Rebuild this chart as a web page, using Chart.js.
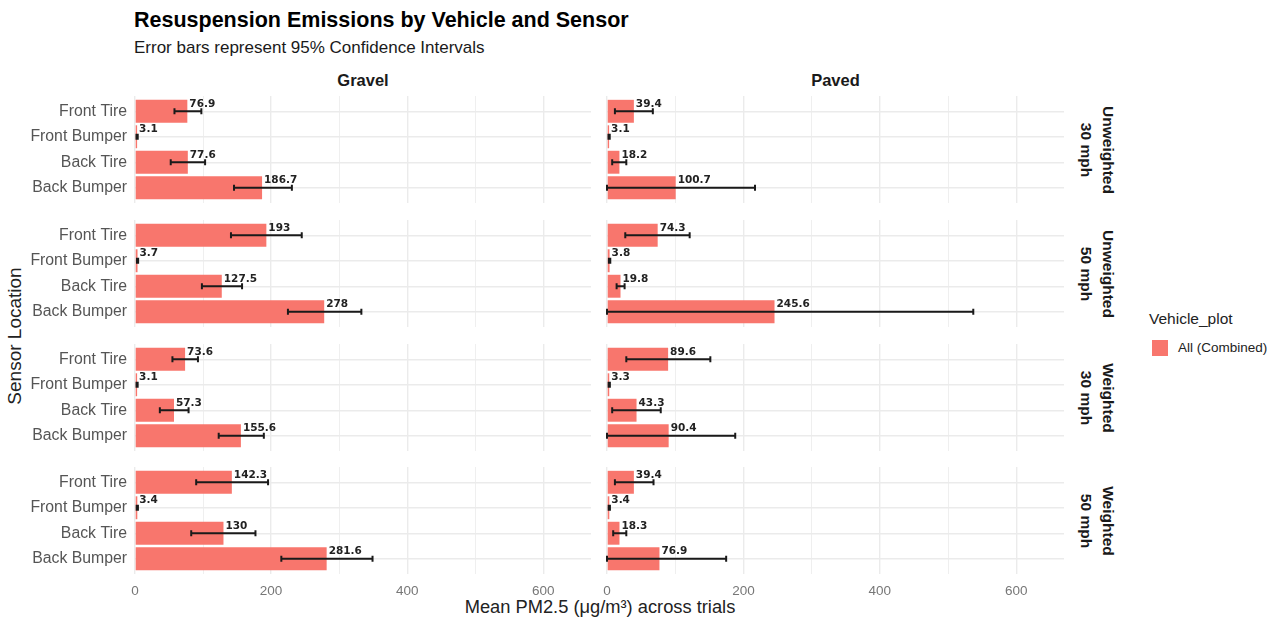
<!DOCTYPE html>
<html>
<head>
<meta charset="utf-8">
<script src="https://cdn.jsdelivr.net/npm/chart.js@4.4.1/dist/chart.umd.min.js"></script>
<style>
  body { margin: 0; background: #fff; font-family: "Liberation Sans", Arial, sans-serif; }
  #wrap { position: relative; width: 1281px; height: 621px; overflow: hidden; }
  canvas { position: absolute; }
  .txt { position: absolute; white-space: nowrap; }
  #title { left: 134px; top: 8px; font-size: 21.5px; font-weight: bold; color: #000; }
  #subtitle { left: 134px; top: 38px; font-size: 17px; color: #1a1a1a; }
  .strip-top { top: 71px; font-size: 16.5px; font-weight: bold; color: #1a1a1a; transform: translateX(-50%); }
  .strip-right { font-size: 15.5px; font-weight: bold; color: #1a1a1a; line-height: 22px; text-align: center;
                 transform: translate(-50%, -50%) rotate(90deg); }
  #ytitle { left: 15px; top: 336px; font-size: 19px; color: #222; transform: translate(-50%, -50%) rotate(-90deg); }
  #xtitle { left: 600px; top: 607px; font-size: 18.3px; color: #222; transform: translate(-50%, -50%); }
  #legend-title { left: 1149px; top: 310px; font-size: 15.5px; color: #222; }
  #legend-key { left: 1152px; top: 340px; width: 16px; height: 16px; position: absolute; }
  #legend-label { left: 1178px; top: 340px; font-size: 13.5px; color: #222; }
</style>
</head>
<body>
<div id="wrap">
  <div id="title" class="txt">Resuspension Emissions by Vehicle and Sensor</div>
  <div id="subtitle" class="txt">Error bars represent 95% Confidence Intervals</div>
  <div id="ytitle" class="txt">Sensor Location</div>
  <div id="xtitle" class="txt">Mean PM2.5 (μg/m³) across trials</div>
  <div id="legend-title" class="txt">Vehicle_plot</div>
  <div id="legend-key"></div>
  <div id="legend-label" class="txt">All (Combined)</div>
</div>
<script>
// ---- Data ----
const sensors    = ['Front Tire', 'Front Bumper', 'Back Tire', 'Back Bumper'];
const surfaces   = ['Gravel', 'Paved'];
const conditions = [['Unweighted', '30 mph'], ['Unweighted', '50 mph'], ['Weighted', '30 mph'], ['Weighted', '50 mph']];

// mean PM2.5 per condition row, sensors in order above
const gravelMean = [[76.9, 3.1, 77.6, 186.7], [193, 3.7, 127.5, 278], [73.6, 3.1, 57.3, 155.6], [142.3, 3.4, 130, 281.6]];
const gravelLow  = [[58, 2.2, 52.5, 145.5], [141, 2.9, 98.3, 224.7], [55, 2.3, 36.5, 123], [89.9, 2.5, 82.6, 215]];
const gravelHigh = [[97.5, 4.0, 103, 230.5], [245, 4.6, 157.3, 332.6], [92.5, 3.9, 78.7, 189.3], [195.5, 4.3, 177, 349]];

const pavedMean  = [[39.4, 3.1, 18.2, 100.7], [74.3, 3.8, 19.8, 245.6], [89.6, 3.3, 43.3, 90.4], [39.4, 3.4, 18.3, 76.9]];
const pavedLow   = [[11.6, 2.2, 7.6, 0], [26.8, 2.8, 14.1, 0], [28.3, 2.4, 7.6, 0], [11.6, 2.5, 9.1, 0]];
const pavedHigh  = [[67.2, 4.0, 28.3, 217], [121.2, 4.8, 25.8, 537], [151.5, 4.2, 78.8, 188], [68.2, 4.3, 28.3, 174.7]];

const xTicks = [0, 200, 400, 600];

// ---- Layout ----
const BAR_COLOR = '#F8766D';
const GRID = '#ebebeb';
const FONT = "'Liberation Sans', Arial, sans-serif";
const COL_LEFT = [0, 597];
const COL_WIDTH = [591, 467];
const Y_AXIS_W = [135, 10];
const ROW_TOP = [96, 220, 344, 467];
const PANEL_H = 107;
const X_AXIS_H = 28;

document.getElementById('legend-key').style.background = BAR_COLOR;

const wrap = document.getElementById('wrap');

// strip labels
surfaces.forEach((s, c) => {
  const d = document.createElement('div');
  d.className = 'txt strip-top';
  d.textContent = s;
  d.style.left = (COL_LEFT[c] + Y_AXIS_W[c] + (COL_WIDTH[c] - Y_AXIS_W[c]) / 2) + 'px';
  wrap.appendChild(d);
});
conditions.forEach((cond, r) => {
  const d = document.createElement('div');
  d.className = 'txt strip-right';
  d.innerHTML = cond[0] + '<br>' + cond[1];
  d.style.left = '1097px';
  d.style.top = (ROW_TOP[r] + PANEL_H / 2) + 'px';
  wrap.appendChild(d);
});

// error bars + value labels drawn over the bars
function makeOverlay(means, low, high) {
  return {
    id: 'overlay',
    afterDatasetsDraw(chart) {
      const { ctx, scales: { x, y } } = chart;
      ctx.save();
      ctx.strokeStyle = '#1a1a1a';
      ctx.lineWidth = 2;
      low.forEach((lo, i) => {
        const yp = y.getPixelForValue(i);
        const x0 = x.getPixelForValue(lo);
        const x1 = x.getPixelForValue(high[i]);
        ctx.beginPath();
        ctx.moveTo(x0, yp); ctx.lineTo(x1, yp);
        ctx.moveTo(x0, yp - 3); ctx.lineTo(x0, yp + 3);
        ctx.moveTo(x1, yp - 3); ctx.lineTo(x1, yp + 3);
        ctx.stroke();
      });
      ctx.fillStyle = '#222';
      ctx.font = "bold 10.5px 'DejaVu Sans', sans-serif";
      ctx.textBaseline = 'middle';
      ctx.textAlign = 'left';
      means.forEach((v, i) => {
        ctx.fillText(String(v), x.getPixelForValue(v) + 2, y.getPixelForValue(i) - 7);
      });
      ctx.restore();
    }
  };
}

function drawPanel(c, r) {
  const means = c === 0 ? gravelMean[r] : pavedMean[r];
  const low   = c === 0 ? gravelLow[r]  : pavedLow[r];
  const high  = c === 0 ? gravelHigh[r] : pavedHigh[r];
  const bottomRow = r === ROW_TOP.length - 1;

  const canvas = document.createElement('canvas');
  canvas.width = COL_WIDTH[c];
  canvas.height = PANEL_H + (bottomRow ? X_AXIS_H : 0);
  canvas.style.left = COL_LEFT[c] + 'px';
  canvas.style.top = ROW_TOP[r] + 'px';
  wrap.appendChild(canvas);

  new Chart(canvas, {
    type: 'bar',
    data: {
      datasets: [{
        label: 'All (Combined)',
        data: means.map((v, i) => ({ x: v, y: i })),
        backgroundColor: BAR_COLOR,
        borderWidth: 0,
        barPercentage: 0.9,
        categoryPercentage: 1,
      }]
    },
    options: {
      indexAxis: 'y',
      responsive: false,
      animation: false,
      events: [],
      layout: { padding: 0 },
      plugins: { legend: { display: false }, tooltip: { enabled: false } },
      scales: {
        x: {
          type: 'linear',
          min: 0, max: 670,
          border: { display: false },
          grid: {
            color: GRID,
            drawTicks: false,
            lineWidth: ctx => (ctx.tick && xTicks.includes(ctx.tick.value)) ? 1.4 : 0.8,
          },
          ticks: {
            display: bottomRow,
            stepSize: 100,
            includeBounds: false,
            padding: 9,
            color: '#777',
            font: { family: FONT, size: 13.5 },
            callback: v => xTicks.includes(v) ? String(v) : '',
          },
          afterFit(scale) {
            scale.height = bottomRow ? X_AXIS_H : 0;
            scale.paddingLeft = 0; scale.paddingRight = 0;
          }
        },
        y: {
          type: 'linear',
          reverse: true,
          min: -0.6, max: 3.6,
          offset: false,
          border: { display: false },
          grid: { color: GRID, lineWidth: 1.4, drawTicks: false, offset: false },
          ticks: {
            display: c === 0,
            stepSize: 1,
            includeBounds: false,
            padding: 8,
            color: '#555',
            font: { family: FONT, size: 15.8 },
            callback: v => Number.isInteger(v) ? sensors[v] : '',
          },
          afterFit(scale) {
            scale.width = Y_AXIS_W[c];
            scale.paddingTop = 0; scale.paddingBottom = 0;
          }
        }
      }
    },
    plugins: [makeOverlay(means, low, high)]
  });
}

surfaces.forEach((s, c) => conditions.forEach((cond, r) => drawPanel(c, r)));
</script>
</body>
</html>
